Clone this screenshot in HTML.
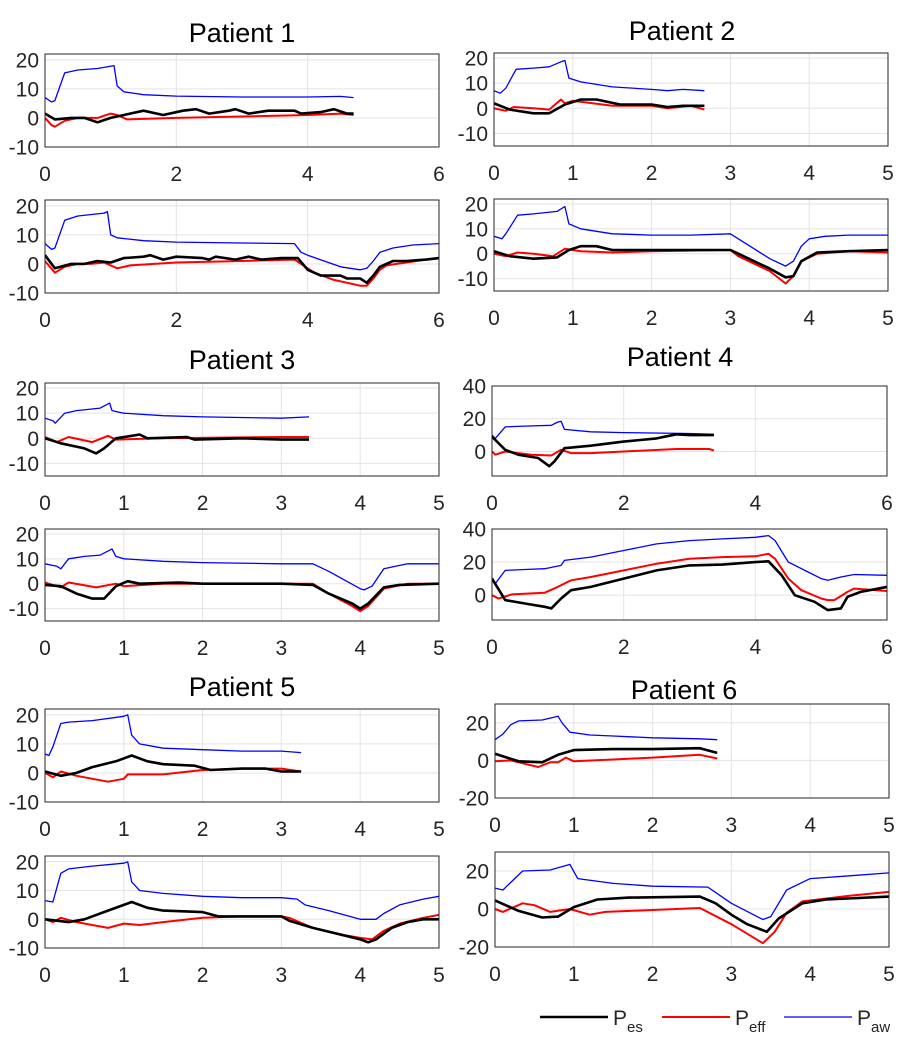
<!DOCTYPE html>
<html><head><meta charset="utf-8"><style>
html,body{margin:0;padding:0;background:#fff;}
svg{display:block;font-family:"Liberation Sans",Arial,sans-serif;}
</style></head><body>
<svg id="fig" width="911" height="1045" viewBox="0 0 911 1045" xmlns="http://www.w3.org/2000/svg">
<g id="titles">
<text x="242" y="42" font-size="27" text-anchor="middle" fill="#000">Patient 1</text>
<text x="682" y="40" font-size="27" text-anchor="middle" fill="#000">Patient 2</text>
<text x="242" y="369" font-size="27" text-anchor="middle" fill="#000">Patient 3</text>
<text x="680" y="366" font-size="27" text-anchor="middle" fill="#000">Patient 4</text>
<text x="242" y="696" font-size="27" text-anchor="middle" fill="#000">Patient 5</text>
<text x="684" y="699" font-size="27" text-anchor="middle" fill="#000">Patient 6</text>
</g>
<g id="legend">
<line x1="540" y1="1017" x2="608" y2="1017" stroke="#000" stroke-width="2.5"/>
<text x="613" y="1025" font-size="21" fill="#262626">P<tspan font-size="15" dy="7">es</tspan></text>
<line x1="662" y1="1017" x2="730" y2="1017" stroke="#ff0000" stroke-width="2"/>
<text x="735" y="1025" font-size="21" fill="#262626">P<tspan font-size="15" dy="7">eff</tspan></text>
<line x1="784" y1="1017" x2="852" y2="1017" stroke="#0000ff" stroke-width="1.3"/>
<text x="857" y="1025" font-size="21" fill="#262626">P<tspan font-size="15" dy="7">aw</tspan></text>
</g>
</svg>
<script>
// ---- data (time s, pressure cmH2O) ----
const p1aPaw=[[0,7],[0.1,5.5],[0.15,6],[0.3,15.5],[0.5,16.5],[0.8,17],[1.05,18],[1.1,11],[1.2,9],[1.5,8],[2,7.5],[3,7.2],[4,7.2],[4.5,7.4],[4.7,7]];
const p1aPes=[[0,1.5],[0.15,-0.5],[0.4,0],[0.6,0],[0.8,-1.5],[1,0],[1.2,1],[1.5,2.5],[1.8,1],[2.1,2.5],[2.3,3],[2.5,1.5],[2.8,2.5],[2.9,3],[3.1,1.5],[3.4,2.5],[3.6,2.5],[3.8,2.5],[3.9,1.5],[4.2,2],[4.4,3],[4.6,1.5],[4.7,1.5]];
const p1aPeff=[[0,0],[0.1,-2.5],[0.15,-3],[0.3,-1],[0.5,0],[0.8,0],[1,1.5],[1.1,1],[1.25,-0.5],[2,0],[3,0.5],[4,1],[4.5,1.5],[4.7,1]];
const p1bPaw=[[0,7],[0.1,5],[0.15,5.5],[0.3,15],[0.5,16.5],[0.9,17.5],[0.95,18],[1,10],[1.1,9],[1.5,8],[2,7.5],[3,7.2],[3.8,7],[3.9,4],[4,3],[4.5,-1],[4.8,-2],[4.9,-1.5],[5,1],[5.1,4],[5.3,5.5],[5.6,6.5],[6,7]];
const p1bPes=[[0,3],[0.15,-1.5],[0.4,0],[0.6,0],[0.8,1],[1,0.5],[1.2,2],[1.5,2.5],[1.6,3],[1.8,1.5],[2,2.5],[2.4,2],[2.5,1.5],[2.6,2.5],[2.9,1.5],[3.1,2.5],[3.3,1.5],[3.6,2],[3.85,2],[4,-2],[4.1,-3],[4.2,-4],[4.5,-4],[4.6,-5],[4.8,-5],[4.9,-6.5],[5,-4],[5.1,-1],[5.3,1],[5.5,1],[5.8,1.5],[6,2]];
const p1bPeff=[[0,1],[0.15,-3],[0.3,-1],[0.5,0],[0.7,0],[0.9,0.5],[1.1,-1.5],[1.3,-0.5],[2,0.5],[3,1],[3.8,1.5],[4,-1.5],[4.1,-3],[4.4,-5.5],[4.8,-7.5],[4.9,-7.5],[5,-5],[5.1,-2],[5.2,-0.5],[5.5,0.5],[5.8,1.5],[6,2]];
const p2aPaw=[[0,7],[0.08,6],[0.15,8],[0.28,15.5],[0.5,16],[0.7,16.5],[0.85,18.5],[0.9,19],[0.95,12],[1.1,10.5],[1.5,8.5],[2,7.5],[2.2,7],[2.4,7.5],[2.67,7]];
const p2aPes=[[0,2],[0.2,-0.5],[0.5,-2],[0.7,-2],[0.9,1.5],[1.1,3.5],[1.3,3.5],[1.6,1.5],[2,1.5],[2.2,0.5],[2.4,1],[2.67,1]];
const p2aPeff=[[0,0],[0.15,-1],[0.25,0.5],[0.5,0],[0.7,-0.5],[0.85,3.5],[0.9,2],[1,3],[1.5,1],[2,1],[2.2,0],[2.5,1],[2.67,-0.5]];
const p2bPaw=[[0,7],[0.1,6],[0.15,8],[0.3,15.5],[0.5,16],[0.8,17],[0.9,19],[0.95,12],[1.1,10],[1.5,8],[2,7.5],[2.5,7.5],[3,8],[3.1,6],[3.5,-2],[3.7,-5],[3.8,-3],[3.9,3],[4,6],[4.2,7],[4.5,7.5],[5,7.5]];
const p2bPes=[[0,1],[0.2,-1],[0.5,-2],[0.8,-1.5],[0.95,1.5],[1.1,3],[1.3,3],[1.5,1.5],[2,1.5],[3,1.5],[3.1,0],[3.5,-6],[3.7,-9.5],[3.8,-9],[3.9,-3],[4.1,0.5],[4.5,1],[5,1.5]];
const p2bPeff=[[0,0],[0.15,-1],[0.3,0.5],[0.5,0],[0.75,-1],[0.9,2],[1.1,1],[1.5,0.5],[2,1],[3,1.5],[3.1,-1],[3.5,-7],[3.7,-12],[3.8,-9],[3.9,-3],[4.1,0],[4.5,1],[5,0.5]];
const p3aPaw=[[0,8],[0.1,7],[0.13,6],[0.25,10],[0.4,11],[0.7,12],[0.82,14],[0.85,11],[1,10],[1.5,9],[2,8.5],[3,8],[3.35,8.5]];
const p3aPes=[[0,0],[0.2,-2],[0.5,-4],[0.65,-6],[0.75,-4],[0.9,0],[1.1,1],[1.2,1.5],[1.3,0],[1.8,0.5],[1.9,-0.5],[2.5,0],[3,-0.5],[3.35,-0.5]];
const p3aPeff=[[0,0.5],[0.15,-1.5],[0.3,0.5],[0.6,-1.5],[0.8,1],[0.9,-0.5],[1.5,0],[3,0.5],[3.35,0.5]];
const p3bPaw=[[0,8],[0.15,7],[0.2,6],[0.3,10],[0.5,11],[0.7,11.5],[0.85,14],[0.9,11],[1,10],[1.5,9],[2,8.5],[3,8],[3.4,8],[3.6,5],[4,-2],[4.05,-2.5],[4.15,-1],[4.3,6],[4.6,8],[5,8]];
const p3bPes=[[0,-0.5],[0.2,-1],[0.4,-4],[0.6,-6],[0.75,-6],[0.9,-1],[1.05,1],[1.2,0],[1.7,0.5],[2,0],[3,0],[3.4,-0.5],[3.6,-4],[3.9,-8],[4,-10],[4.1,-8],[4.3,-1.5],[4.5,-0.5],[5,0]];
const p3bPeff=[[0,0.5],[0.2,-1.5],[0.3,0.5],[0.65,-1.5],[0.9,0],[1,-1],[1.5,0],[3,0],[3.4,0],[3.6,-4],[3.9,-9],[4,-11],[4.1,-9],[4.3,-2],[4.6,0],[5,0]];
const p4aPaw=[[0,10],[0.05,8],[0.2,15],[0.5,15.5],[0.9,16],[1,18],[1.05,18.5],[1.1,13.5],[1.5,12],[2,11.5],[3,11],[3.37,10.5]];
const p4aPes=[[0,9],[0.2,1],[0.4,-2],[0.7,-4],[0.87,-9],[0.95,-6],[1.1,2],[1.5,3.5],[2,6],[2.5,8],[2.8,10.5],[3,10],[3.37,10]];
const p4aPeff=[[0,0],[0.05,-2],[0.2,0],[0.6,-2],[0.9,-2.5],[1.05,1],[1.2,-1],[1.5,-1],[2,0],[2.8,1.5],[3.3,1.5],[3.37,0.5]];
const p4bPaw=[[0,10],[0.05,7],[0.2,15],[0.5,15.5],[0.8,16],[1.05,18],[1.1,21],[1.5,23],[2,27],[2.5,31],[3,33],[3.5,34],[4,35],[4.2,36],[4.3,33],[4.5,20],[4.8,14],[5,10],[5.1,9],[5.3,11],[5.5,12.5],[6,12]];
const p4bPes=[[0,10],[0.2,-3],[0.5,-5],[0.8,-7],[0.9,-8],[1.05,-2],[1.2,3],[1.5,5],[2,10],[2.5,15],[3,18],[3.5,18.5],[4,20],[4.2,20.5],[4.4,12],[4.6,0],[4.9,-4],[5.1,-9],[5.3,-8],[5.4,-1],[5.6,2],[6,5]];
const p4bPeff=[[0,0],[0.1,-2],[0.3,0.5],[0.8,1.5],[1,5],[1.2,9],[1.5,11],[2,15],[2.5,19],[3,22],[3.5,23],[4,23.5],[4.2,25],[4.3,22],[4.5,10],[4.7,3],[5,-2],[5.1,-3],[5.2,-3],[5.4,2],[5.5,4],[6,2.5]];
const p5aPaw=[[0,6.5],[0.05,6],[0.1,9],[0.2,17],[0.3,17.5],[0.6,18],[1,19.5],[1.05,20],[1.1,13],[1.2,10],[1.5,8.5],[2,8],[2.5,7.5],[3,7.5],[3.25,7]];
const p5aPes=[[0,0.5],[0.2,-1],[0.4,0],[0.6,2],[0.9,4],[1.1,6],[1.3,4],[1.5,3],[1.9,2.5],[2.1,1],[2.5,1.5],[2.8,1.5],[3,0.5],[3.25,0.5]];
const p5aPeff=[[0,0],[0.1,-1.5],[0.2,0.5],[0.4,-1],[0.8,-3],[1,-2],[1.05,-0.5],[1.5,-0.5],[2,1],[2.5,1.5],[3,1.5],[3.25,0.5]];
const p5bPaw=[[0,6.5],[0.1,6],[0.2,16],[0.3,17.5],[0.6,18.5],[1,19.5],[1.05,20],[1.1,13],[1.2,10],[1.5,9],[2,8],[2.5,7.5],[3,7.5],[3.2,7],[3.3,5],[3.6,3],[4,0],[4.2,0],[4.3,2],[4.5,5],[4.8,7],[5,8]];
const p5bPes=[[0,0],[0.3,-1],[0.5,0],[0.8,3],[1,5],[1.1,6],[1.3,4],[1.5,3],[2,2.5],[2.2,1],[2.5,1],[3,1],[3.1,-0.5],[3.4,-3],[3.7,-5],[4,-7],[4.1,-8],[4.2,-7],[4.4,-3],[4.6,-1],[4.8,0],[5,0]];
const p5bPeff=[[0,0],[0.1,-1],[0.2,0.5],[0.4,-1],[0.8,-3],[1,-1.5],[1.2,-2],[1.5,-1],[2,0.5],[2.5,1],[3,1],[3.1,0.5],[3.4,-3],[3.8,-5.5],[4,-6.5],[4.15,-7],[4.3,-4],[4.5,-1.5],[4.8,0.5],[5,1.5]];
const p6aPaw=[[0,11],[0.1,14],[0.2,19],[0.3,21],[0.6,21.5],[0.8,23.5],[0.85,20],[0.95,15],[1.2,13.5],[1.5,13],[2,12],[2.6,11.5],[2.82,11]];
const p6aPes=[[0,3.5],[0.3,-0.5],[0.6,-1],[0.8,3],[1,5.5],[1.5,6],[2,6],[2.6,6.5],[2.82,4]];
const p6aPeff=[[0,-0.5],[0.2,0],[0.55,-3.5],[0.7,-1],[0.8,-1],[0.9,1.5],[1,-0.5],[1.5,0.5],[2,1.5],[2.6,3],[2.82,1]];
const p6bPaw=[[0,11],[0.1,10],[0.2,14],[0.35,20],[0.7,20.5],[0.95,23.5],[1.05,16],[1.5,13.5],[2,12],[2.7,11.5],[3,3],[3.4,-5.5],[3.5,-4],[3.7,10],[4,16],[4.5,17.5],[5,19]];
const p6bPes=[[0,4.5],[0.3,-1],[0.6,-4.5],[0.8,-4],[1,1],[1.3,5],[1.7,6],[2.6,6.5],[2.8,3],[3,-3],[3.2,-8],[3.45,-12],[3.6,-5],[3.9,3],[4.2,5],[5,6.5]];
const p6bPeff=[[0,0],[0.1,-1.5],[0.35,3],[0.5,2],[0.7,-1.5],[0.95,0],[1.2,-3],[1.4,-1.5],[2,-0.5],[2.6,0.5],[3,-8],[3.4,-18],[3.55,-12],[3.7,-2],[3.9,4],[4.5,7],[5,9]];
const xTicks6=[0,2,4,6];
const xTicks5=[0,1,2,3,4,5];
const yTicksA=[-10,0,10,20];
const yTicksB=[0,20,40];
const yTicksC=[-20,0,20];

// ---- layout ----
const panels=[
 {id:'p1-top',x0:45,x1:439,y0:54,y1:147,xmax:6,ymin:-10,ymax:22,xt:xTicks6,yt:yTicksA,d:[p1aPes,p1aPeff,p1aPaw]},
 {id:'p1-bottom',x0:45,x1:439,y0:200,y1:293,xmax:6,ymin:-10,ymax:22,xt:xTicks6,yt:yTicksA,d:[p1bPes,p1bPeff,p1bPaw]},
 {id:'p2-top',x0:494,x1:888,y0:53,y1:146,xmax:5,ymin:-15,ymax:22,xt:xTicks5,yt:yTicksA,d:[p2aPes,p2aPeff,p2aPaw]},
 {id:'p2-bottom',x0:494,x1:888,y0:199,y1:291,xmax:5,ymin:-15,ymax:22,xt:xTicks5,yt:yTicksA,d:[p2bPes,p2bPeff,p2bPaw]},
 {id:'p3-top',x0:45,x1:439,y0:383,y1:476,xmax:5,ymin:-15,ymax:22,xt:xTicks5,yt:yTicksA,d:[p3aPes,p3aPeff,p3aPaw]},
 {id:'p3-bottom',x0:45,x1:439,y0:529,y1:621,xmax:5,ymin:-15,ymax:22,xt:xTicks5,yt:yTicksA,d:[p3bPes,p3bPeff,p3bPaw]},
 {id:'p4-top',x0:492,x1:887,y0:386,y1:476,xmax:6,ymin:-15,ymax:40,xt:xTicks6,yt:yTicksB,d:[p4aPes,p4aPeff,p4aPaw]},
 {id:'p4-bottom',x0:492,x1:887,y0:529,y1:620,xmax:6,ymin:-15,ymax:40,xt:xTicks6,yt:yTicksB,d:[p4bPes,p4bPeff,p4bPaw]},
 {id:'p5-top',x0:45,x1:439,y0:709,y1:802,xmax:5,ymin:-10,ymax:22,xt:xTicks5,yt:yTicksA,d:[p5aPes,p5aPeff,p5aPaw]},
 {id:'p5-bottom',x0:45,x1:439,y0:856,y1:948,xmax:5,ymin:-10,ymax:22,xt:xTicks5,yt:yTicksA,d:[p5bPes,p5bPeff,p5bPaw]},
 {id:'p6-top',x0:495,x1:889,y0:704,y1:798,xmax:5,ymin:-20,ymax:30,xt:xTicks5,yt:yTicksC,d:[p6aPes,p6aPeff,p6aPaw]},
 {id:'p6-bottom',x0:495,x1:889,y0:852,y1:947,xmax:5,ymin:-20,ymax:30,xt:xTicks5,yt:yTicksC,d:[p6bPes,p6bPeff,p6bPaw]}
];
const seriesStyle=[{c:'#000000',w:2.6,n:'pes'},{c:'#ff0000',w:2,n:'peff'},{c:'#0000ff',w:1.3,n:'paw'}];
const NS='http://www.w3.org/2000/svg';
const svg=document.getElementById('fig');
function mk(tag,attrs,parent){const e=document.createElementNS(NS,tag);for(const k in attrs)e.setAttribute(k,attrs[k]);parent.appendChild(e);return e;}
panels.forEach(p=>{
 const g=mk('g',{},svg);
 
 
 const sx=v=>p.x0+(v/p.xmax)*(p.x1-p.x0);
 const sy=v=>p.y1-(v-p.ymin)/(p.ymax-p.ymin)*(p.y1-p.y0);
 mk('rect',{x:p.x0,y:p.y0,width:p.x1-p.x0,height:p.y1-p.y0,fill:'#fff'},g);
 p.xt.forEach(t=>{
  const X=sx(t);
  const gl=mk('line',{x1:X,x2:X,y1:p.y0,y2:p.y1,stroke:'#e3e3e3','stroke-width':1},g);
  
  
  const lb=mk('text',{x:X,y:p.y1+34,'font-size':21,'text-anchor':'middle',fill:'#262626'},g);
  lb.textContent=t;
  
  
 });
 p.yt.forEach(t=>{
  const Y=sy(t);
  const gl=mk('line',{x1:p.x0,x2:p.x1,y1:Y,y2:Y,stroke:'#e3e3e3','stroke-width':1},g);
  
  
  const lb=mk('text',{x:p.x0-6,y:Y+7.5,'font-size':21,'text-anchor':'end',fill:'#262626'},g);
  lb.textContent=t;
  
  
 });
 const clipId='clip-'+p.id;
 const cp=mk('clipPath',{id:clipId},g);
 mk('rect',{x:p.x0,y:p.y0,width:p.x1-p.x0,height:p.y1-p.y0},cp);
 [2,1,0].forEach(i=>{
  const s=seriesStyle[i];
  const pts=p.d[i].map(q=>sx(q[0]).toFixed(1)+','+sy(q[1]).toFixed(1)).join(' ');
  const pl=mk('polyline',{points:pts,fill:'none',stroke:s.c,'stroke-width':s.w,'stroke-linejoin':'round','clip-path':'url(#'+clipId+')'},g);
  
  
 });
 const fr=mk('rect',{x:p.x0,y:p.y0,width:p.x1-p.x0,height:p.y1-p.y0,fill:'none',stroke:'#262626','stroke-width':1},g);
 
 
});
svg.appendChild(document.getElementById('titles'));
svg.appendChild(document.getElementById('legend'));
</script>
</body></html>
